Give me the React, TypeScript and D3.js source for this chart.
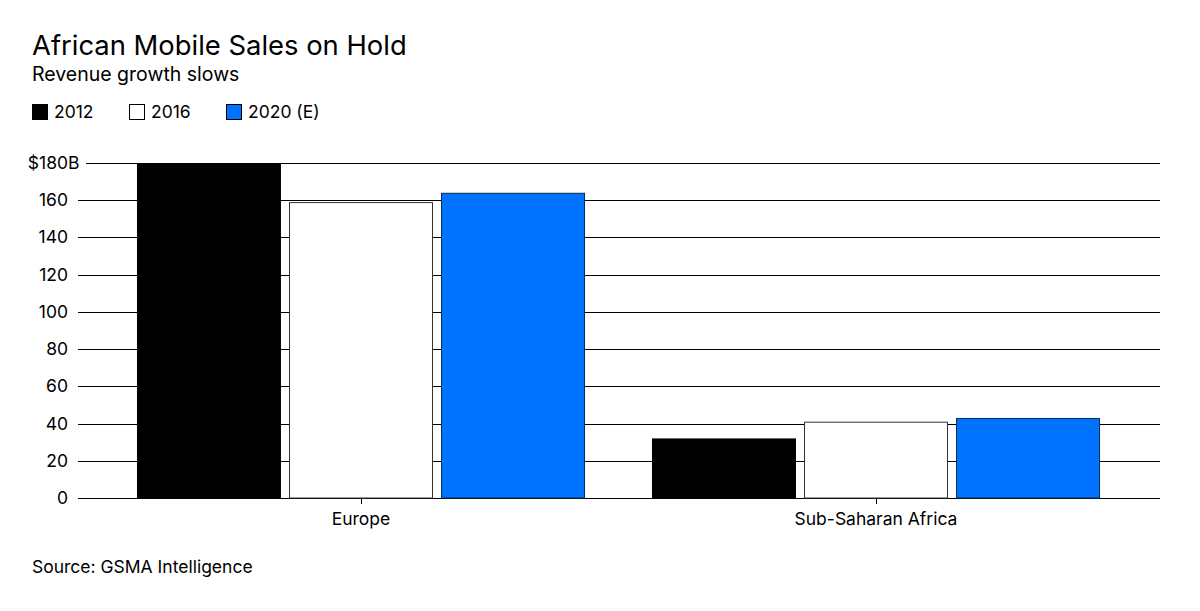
import React from "react";
import * as d3 from "d3";

const regions = ["Europe", "Sub-Saharan Africa"];
const seriesNames = ["2012", "2016", "2020 (E)"];
const values2012 = [180, 32];
const values2016 = [159, 41];
const values2020 = [164, 43];
const yTicks = [0, 20, 40, 60, 80, 100, 120, 140, 160, 180];
const fills = ["#000000", "#ffffff", "#0074ff"];
const strokes = ["#000000", "#333333", "#0a2a55"];

const W = 1200;
const H = 611;
const FONT = "Inter, 'Liberation Sans', Arial, sans-serif";

export default function App() {
  const series = [values2012, values2016, values2020];
  const y = d3.scaleLinear().domain([0, 180]).range([498, 163]);
  const x0 = d3.scaleBand<string>().domain(regions).range([103.5, 1133.5]).paddingInner(0.13).paddingOuter(0.065);
  const x1 = d3.scaleBand<string>().domain(seriesNames).range([0, x0.bandwidth()]).paddingInner(0.053);
  const gridL = 78;
  const gridR = 1160;
  const fs = 17.5;

  return (
    <svg width={W} height={H} style={{ position: "absolute", left: 0, top: 0, background: "#fff" }} fontFamily={FONT}>
      <rect width={W} height={H} fill="#fff" />
      <text x={32} y={55} fontSize={27.4} fill="#000">African Mobile Sales on Hold</text>
      <text x={32} y={81} fontSize={19.5} fill="#000">Revenue growth slows</text>
      {seriesNames.map((s, i) => {
        const lx = [32, 129, 226][i];
        return (
          <g key={s}>
            <rect x={lx + 0.5} y={104.5} width={15} height={15} fill={fills[i]} stroke="#000" strokeWidth={1} />
            <text x={lx + 22} y={118} fontSize={fs} fill="#000">{s}</text>
          </g>
        );
      })}
      {yTicks.map((t) => (
        <g key={t}>
          <line x1={t === 180 ? 86 : gridL} x2={gridR} y1={Math.round(y(t)) + 0.5} y2={Math.round(y(t)) + 0.5} stroke="#000" strokeWidth={1} />
          <text x={68} y={y(t) + 6} fontSize={fs} textAnchor="end" fill="#000">{t === 180 ? "$180" : String(t)}</text>
          {t === 180 && <text x={68} y={y(t) + 6} fontSize={fs} fill="#000">B</text>}
        </g>
      ))}
      {regions.map((r, ri) => (
        <g key={r} transform={`translate(${x0(r)},0)`}>
          {seriesNames.map((s, si) => {
            const v = series[si][ri];
            return (
              <rect
                key={s}
                x={(x1(s) as number) + 0.5}
                y={y(v) + 0.5}
                width={x1.bandwidth() - 1}
                height={y(0) - y(v) - 0.5}
                fill={fills[si]}
                stroke={strokes[si]}
                strokeWidth={1}
              />
            );
          })}
        </g>
      ))}
      {regions.map((r) => {
        const cx = (x0(r) as number) + x0.bandwidth() / 2;
        return (
          <g key={r}>
            <line x1={Math.round(cx) + 0.5} x2={Math.round(cx) + 0.5} y1={498} y2={504} stroke="#000" />
            <text x={cx} y={525} fontSize={fs} textAnchor="middle" fill="#000">{r}</text>
          </g>
        );
      })}
      <text x={32} y={573} fontSize={fs} fill="#000">Source: GSMA Intelligence</text>
    </svg>
  );
}
